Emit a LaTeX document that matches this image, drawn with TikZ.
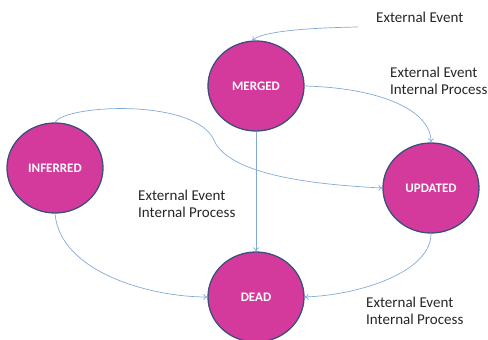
\documentclass[tikz,border=0pt]{standalone}
\usepackage{fontspec}
\setmainfont{Carlito}
\usetikzlibrary{shapes.geometric,arrows.meta}
\definecolor{stfill}{RGB}{211,58,156}
\definecolor{stdraw}{RGB}{60,80,125}
\definecolor{edgec}{RGB}{130,170,215}
\definecolor{txt}{RGB}{38,38,38}
\begin{document}
\begin{tikzpicture}[x=1pt,y=-1pt,
  state/.style={ellipse,fill=stfill,draw=stdraw,line width=1.3pt,minimum width=96pt,minimum height=90pt,inner sep=0pt,text=white,font=\fontsize{13}{15}\selectfont\bfseries},
  arr/.style={draw=edgec,line width=0.7pt,-{To[length=4pt,width=6pt]}},
  lbl/.style={anchor=west,align=left,text=txt,inner sep=0pt,font=\fontsize{15}{17}\selectfont}]
\useasboundingbox (0,0) rectangle (488,340);
\node[state] (M) at (256,86) {MERGED};
\node[state] (I) at (55,168) {INFERRED};
\node[state] (U) at (431,188) {UPDATED};
\node[state] (D) at (256,297) {DEAD};
\coordinate (ext) at (358,27);
\draw[arr] (ext) .. controls (300,28) and (262,32) .. (M.95);
\draw[arr] (M.east) .. controls (380,88) and (431,110) .. (U.north);
\draw[arr] (I.north) .. controls (65,105) and (190,98) .. (213,138) .. controls (225,172) and (300,184) .. (U.west);
\draw[arr] (M.south) -- (D.north);
\draw[arr] (I.south) .. controls (60,272) and (150,297) .. (D.west);
\draw[arr] (U.south) .. controls (431,272) and (360,295) .. (D.east);
\node[lbl] (l1) at (376,17) {External Event};
\node[lbl] (l2) at (390,81) {External Event\\Internal Process};
\node[lbl] (l3) at (138,204) {External Event\\Internal Process};
\node[lbl] (l4) at (366,311) {External Event\\Internal Process};
\end{tikzpicture}
\end{document}
